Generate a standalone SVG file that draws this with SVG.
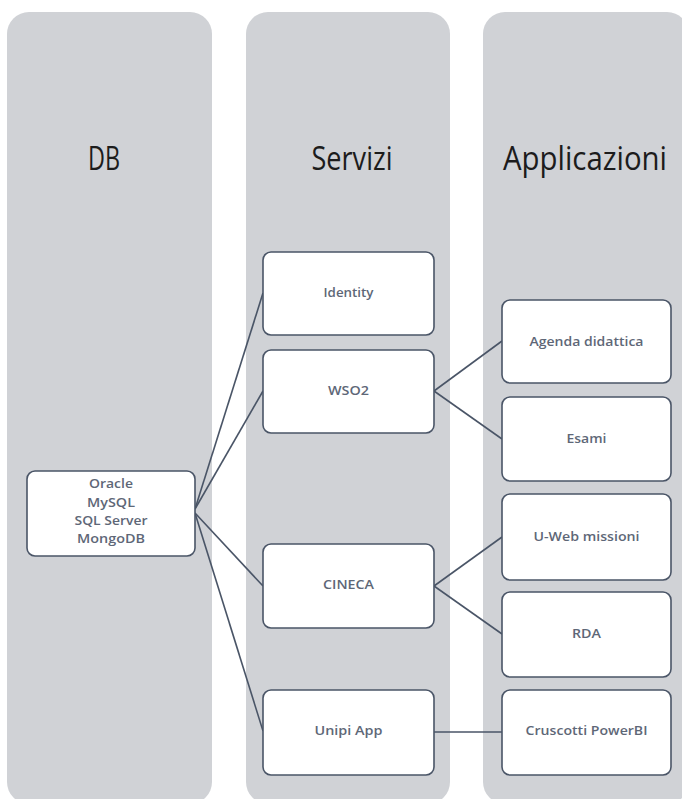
<svg xmlns="http://www.w3.org/2000/svg" width="682" height="799" viewBox="0 0 682 799">
<style>
.col{fill:#d0d2d6;}
.hd{font-family:"Open Sans","Liberation Sans",sans-serif;font-size:32px;fill:#1c1c1c;text-anchor:middle;}
.box{fill:#ffffff;stroke:#4a5567;stroke-width:1.6;}
.lbl{font-family:"Open Sans","Liberation Sans",sans-serif;font-size:12.5px;fill:#5e6777;text-anchor:middle;font-weight:600;}
.con{stroke:#4a5567;stroke-width:1.6;fill:none;}
</style>
<rect width="682" height="799" fill="#ffffff"/>
<g id="col-db"><rect class="col" x="7" y="12" width="205" height="792" rx="22"/><text class="hd" x="104" y="170" textLength="32" lengthAdjust="spacingAndGlyphs">DB</text></g>
<g id="col-servizi"><rect class="col" x="246" y="12" width="204" height="792" rx="22"/><text class="hd" x="352" y="170" textLength="81" lengthAdjust="spacingAndGlyphs">Servizi</text></g>
<g id="col-applicazioni"><rect class="col" x="483" y="12" width="206" height="792" rx="22"/><text class="hd" x="585" y="170" textLength="164" lengthAdjust="spacingAndGlyphs">Applicazioni</text></g>
<g id="connectors">
<line class="con" x1="195" y1="509" x2="263" y2="293"/>
<line class="con" x1="195" y1="509" x2="263" y2="391"/>
<line class="con" x1="195" y1="513" x2="263" y2="586"/>
<line class="con" x1="195" y1="513" x2="263" y2="731"/>
<line class="con" x1="434" y1="391" x2="502" y2="341"/>
<line class="con" x1="434" y1="391" x2="502" y2="439"/>
<line class="con" x1="434" y1="586" x2="502" y2="537"/>
<line class="con" x1="434" y1="586" x2="502" y2="634"/>
<line class="con" x1="434" y1="732" x2="502" y2="732"/>
</g>
<g id="db"><rect class="box" x="27" y="471" width="168" height="85" rx="8"/>
<text class="lbl" x="111" y="488" textLength="44" lengthAdjust="spacingAndGlyphs">Oracle</text>
<text class="lbl" x="111" y="507" textLength="48" lengthAdjust="spacingAndGlyphs">MySQL</text>
<text class="lbl" x="111" y="525" textLength="73" lengthAdjust="spacingAndGlyphs">SQL Server</text>
<text class="lbl" x="111" y="543" textLength="68" lengthAdjust="spacingAndGlyphs">MongoDB</text></g>
<g id="identity"><rect class="box" x="263" y="252" width="171" height="83" rx="8"/><text class="lbl" x="348.5" y="297" textLength="50" lengthAdjust="spacingAndGlyphs">Identity</text></g>
<g id="wso2"><rect class="box" x="263" y="350" width="171" height="83" rx="8"/><text class="lbl" x="348.5" y="395" textLength="41" lengthAdjust="spacingAndGlyphs">WSO2</text></g>
<g id="cineca"><rect class="box" x="263" y="544" width="171" height="84" rx="8"/><text class="lbl" x="348.5" y="589" textLength="51" lengthAdjust="spacingAndGlyphs">CINECA</text></g>
<g id="unipi-app"><rect class="box" x="263" y="690" width="171" height="85" rx="8"/><text class="lbl" x="348.5" y="735" textLength="68" lengthAdjust="spacingAndGlyphs">Unipi App</text></g>
<g id="agenda"><rect class="box" x="502" y="300" width="169" height="83" rx="8"/><text class="lbl" x="586.5" y="346" textLength="114" lengthAdjust="spacingAndGlyphs">Agenda didattica</text></g>
<g id="esami"><rect class="box" x="502" y="397" width="169" height="84" rx="8"/><text class="lbl" x="586.5" y="443" textLength="40" lengthAdjust="spacingAndGlyphs">Esami</text></g>
<g id="uweb"><rect class="box" x="502" y="494" width="169" height="86" rx="8"/><text class="lbl" x="586.5" y="541" textLength="106" lengthAdjust="spacingAndGlyphs">U-Web missioni</text></g>
<g id="rda"><rect class="box" x="502" y="592" width="169" height="85" rx="8"/><text class="lbl" x="586.5" y="638" textLength="29" lengthAdjust="spacingAndGlyphs">RDA</text></g>
<g id="cruscotti"><rect class="box" x="502" y="690" width="169" height="85" rx="8"/><text class="lbl" x="586.5" y="735" textLength="122" lengthAdjust="spacingAndGlyphs">Cruscotti PowerBI</text></g>
</svg>
